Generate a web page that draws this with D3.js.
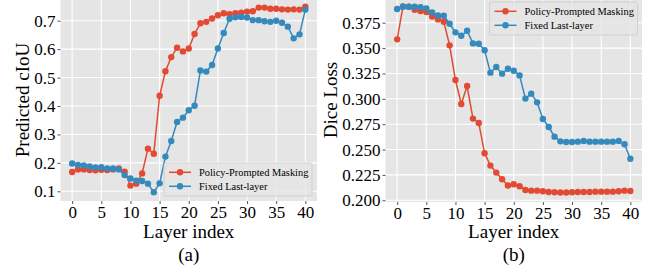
<!DOCTYPE html>
<html>
<head>
<meta charset="utf-8">
<script src="https://cdn.jsdelivr.net/npm/d3@7"></script>
<style>
body{margin:0;background:#fff;}
svg text{font-family:"Liberation Serif","Times New Roman",serif;fill:#000;}
</style>
</head>
<body>
<div id="chart"></div>
<script>
var layers = d3.range(0, 41);

var ciouPolicy = [0.168,0.177,0.177,0.175,0.174,0.176,0.175,0.177,0.180,0.169,
    0.120,0.127,0.163,0.250,0.232,0.436,0.522,0.572,0.605,0.592,
    0.602,0.653,0.691,0.696,0.708,0.719,0.726,0.723,0.726,0.728,
    0.732,0.733,0.746,0.746,0.742,0.742,0.740,0.739,0.740,0.739,0.749];
var ciouFixed = [0.198,0.193,0.191,0.187,0.184,0.185,0.180,0.180,0.177,0.157,
    0.145,0.137,0.136,0.127,0.097,0.128,0.222,0.277,0.344,0.359,
    0.385,0.401,0.525,0.521,0.544,0.602,0.657,0.707,0.712,0.713,
    0.711,0.702,0.702,0.698,0.696,0.700,0.693,0.679,0.638,0.652,0.739];

var dicePolicy = [0.3586,0.3910,0.3908,0.3878,0.3865,0.3855,0.3812,0.3783,0.3760,0.3527,
    0.3185,0.2949,0.3126,0.2805,0.2762,0.2463,0.2342,0.2273,0.2207,0.2145,
    0.2158,0.2138,0.2102,0.2095,0.2095,0.2089,0.2082,0.2079,0.2076,0.2076,
    0.2079,0.2082,0.2082,0.2082,0.2085,0.2085,0.2085,0.2085,0.2089,0.2095,0.2092];
var diceFixed = [0.3885,0.3908,0.3908,0.3908,0.3904,0.3891,0.3852,0.3822,0.3819,0.3740,
    0.3655,0.3622,0.3671,0.3546,0.3543,0.3478,0.3258,0.3313,0.3248,0.3297,
    0.3277,0.3231,0.3002,0.3051,0.2965,0.2801,0.2722,0.2627,0.2581,0.2575,
    0.2575,0.2578,0.2585,0.2578,0.2578,0.2578,0.2578,0.2578,0.2585,0.2552,0.2410];

var xTicks = [0,5,10,15,20,25,30,35,40];
var ciouTicks = [0.1,0.2,0.3,0.4,0.5,0.6,0.7];
var diceTicks = [0.200,0.225,0.250,0.275,0.300,0.325,0.350,0.375];
var seriesNames = ["Policy-Prompted Masking", "Fixed Last-layer"];
var colors = ["#E24A33", "#348ABD"];

var svg = d3.select("#chart").append("svg")
    .attr("width", 655)
    .attr("height", 269);

function drawPanel(opt){
    var x = d3.scaleLinear().domain([-2, 42]).range([opt.left, opt.right]);
    var y = d3.scaleLinear().domain(opt.ydomain).range([opt.bottom, 0]);
    var g = svg.append("g");

    g.append("rect")
        .attr("x", opt.left).attr("y", 0)
        .attr("width", opt.right - opt.left).attr("height", opt.bottom)
        .attr("fill", "#E5E5E5");

    // grid
    g.selectAll(".vgrid").data(xTicks).enter().append("line")
        .attr("x1", d => x(d)).attr("x2", d => x(d))
        .attr("y1", 0).attr("y2", opt.bottom)
        .attr("stroke", "#fff").attr("stroke-width", 1.1);
    g.selectAll(".hgrid").data(opt.yticks).enter().append("line")
        .attr("x1", opt.left).attr("x2", opt.right)
        .attr("y1", d => y(d)).attr("y2", d => y(d))
        .attr("stroke", "#fff").attr("stroke-width", 1.1);

    var xa = g.append("g")
        .attr("transform", "translate(0," + opt.bottom + ")")
        .call(d3.axisBottom(x).tickValues(xTicks).tickSize(3).tickPadding(2).tickFormat(d3.format("d")));
    var ya = g.append("g")
        .attr("transform", "translate(" + opt.left + ",0)")
        .call(d3.axisLeft(y).tickValues(opt.yticks).tickSize(3).tickPadding(2).tickFormat(opt.fmt));
    [xa, ya].forEach(function(a){
        a.select(".domain").remove();
        a.selectAll(".tick line").attr("stroke", "#555");
        a.selectAll(".tick text").attr("font-size", 17).attr("fill", "#000")
            .style("font-family", "'Liberation Serif','Times New Roman',serif");
    });
    xa.selectAll(".tick text").attr("dy", "0.68em");

    var line = d3.line().x((d, i) => x(layers[i])).y(d => y(d));
    opt.series.forEach(function(s, k){
        g.append("path").datum(s)
            .attr("d", line)
            .attr("fill", "none")
            .attr("stroke", colors[k])
            .attr("stroke-width", 1.5);
        g.selectAll(".pt" + k).data(s).enter().append("circle")
            .attr("cx", (d, i) => x(layers[i]))
            .attr("cy", d => y(d))
            .attr("r", 3.2)
            .attr("fill", colors[k]);
    });

    // legend
    var lg = g.append("g").attr("transform", "translate(" + opt.legend[0] + "," + opt.legend[1] + ")");
    lg.append("rect")
        .attr("width", 148).attr("height", 33).attr("rx", 2)
        .attr("fill", "#E5E5E5").attr("fill-opacity", 0.8)
        .attr("stroke", "#cccccc").attr("stroke-width", 0.8);
    seriesNames.forEach(function(n, k){
        var yy = 9.3 + k * 14;
        lg.append("line").attr("x1", 5).attr("x2", 27).attr("y1", yy).attr("y2", yy)
            .attr("stroke", colors[k]).attr("stroke-width", 1.5);
        lg.append("circle").attr("cx", 16).attr("cy", yy).attr("r", 3.2).attr("fill", colors[k]);
        lg.append("text").attr("x", 35).attr("y", yy).attr("dy", "0.35em")
            .attr("font-size", 10.4).text(n);
    });

    var mid = (x(0) + x(40)) / 2;
    g.append("text").attr("x", mid).attr("y", 237.5).attr("text-anchor", "middle")
        .attr("font-size", 19).text("Layer index");
    g.append("text").attr("x", mid).attr("y", 261).attr("text-anchor", "middle")
        .attr("font-size", 19).text(opt.caption);
    g.append("text")
        .attr("transform", "translate(" + opt.ylabelX + "," + opt.ylabelY + ") rotate(-90)")
        .attr("text-anchor", "middle")
        .attr("font-size", 19).text(opt.ylabel);
}

drawPanel({
    left: 60.5, right: 317, bottom: 201,
    ydomain: [0.0659, 0.7728],
    yticks: ciouTicks, fmt: d3.format(".1f"),
    series: [ciouPolicy, ciouFixed],
    legend: [164, 163],
    caption: "(a)",
    ylabel: "Predicted cIoU", ylabelX: 29, ylabelY: 100
});

drawPanel({
    left: 385.5, right: 642, bottom: 202,
    ydomain: [0.1983, 0.3974],
    yticks: diceTicks, fmt: d3.format(".3f"),
    series: [dicePolicy, diceFixed],
    legend: [489.5, 2],
    caption: "(b)",
    ylabel: "Dice Loss", ylabelX: 337, ylabelY: 100
});
</script>
</body>
</html>
